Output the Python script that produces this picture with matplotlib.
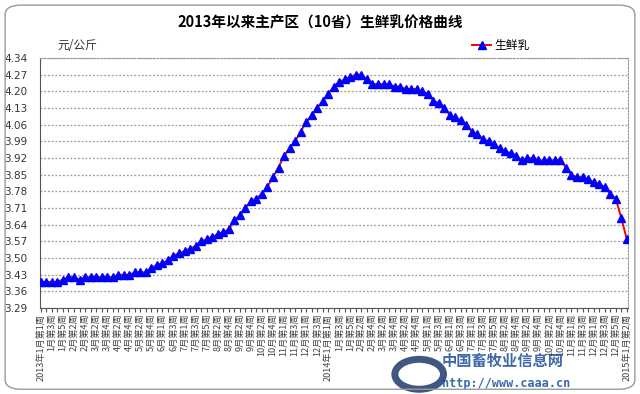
import numpy as np
import matplotlib
matplotlib.use("Agg")
import matplotlib.pyplot as plt
from matplotlib.patches import FancyBboxPatch, Circle

plt.rcParams['font.family'] = ['Noto Sans CJK SC', 'DejaVu Sans']

# weekly milk price, 2013 week 1 .. 2015 Jan week 2
price = [
    3.40, 3.40, 3.40, 3.40, 3.41,
    3.42, 3.42, 3.41, 3.42, 3.42,
    3.42, 3.42, 3.42, 3.42, 3.43,
    3.43, 3.43, 3.44, 3.44, 3.44,
    3.46, 3.47, 3.48, 3.49, 3.51,
    3.52, 3.53, 3.54, 3.55, 3.57,
    3.58, 3.59, 3.60, 3.61, 3.62,
    3.66, 3.68, 3.71, 3.74, 3.75,
    3.77, 3.80, 3.84, 3.88, 3.93,
    3.96, 3.99, 4.03, 4.07, 4.10,
    4.13, 4.16, 4.19, 4.22, 4.24,
    4.25, 4.26, 4.27, 4.27, 4.25,
    4.23, 4.23, 4.23, 4.23, 4.22,
    4.22, 4.21, 4.21, 4.21, 4.20,
    4.19, 4.16, 4.15, 4.13, 4.10,
    4.09, 4.08, 4.06, 4.03, 4.02,
    4.00, 3.99, 3.98, 3.96, 3.95,
    3.94, 3.93, 3.91, 3.92, 3.92,
    3.91, 3.91, 3.91, 3.91, 3.91,
    3.88, 3.85, 3.84, 3.84, 3.83,
    3.82, 3.81, 3.80, 3.77, 3.75,
    3.67, 3.58,
]

# labels shown on every second week
week_labels = [
    "2013年1月第1周", "1月第3周", "1月第5周", "2月第2周", "2月第4周", "3月第2周",
    "3月第4周", "4月第2周", "4月第4周", "5月第2周", "5月第4周", "6月第1周",
    "6月第3周", "7月第1周", "7月第3周", "7月第5周", "8月第2周", "8月第4周",
    "9月第2周", "9月第4周", "10月第2周", "10月第4周", "11月第1周", "11月第3周",
    "12月第1周", "12月第3周",
    "2014年1月第1周", "1月第3周", "1月第5周", "2月第2周", "2月第4周", "3月第2周",
    "3月第4周", "4月第2周", "4月第4周", "5月第1周", "5月第3周", "6月第1周",
    "6月第3周", "7月第1周", "7月第3周", "7月第5周", "8月第2周", "8月第4周",
    "9月第2周", "9月第4周", "10月第2周", "10月第4周", "11月第1周", "11月第3周",
    "12月第1周", "12月第3周", "12月第5周",
    "2015年1月第2周",
]

y_ticks = [3.29, 3.36, 3.43, 3.50, 3.57, 3.64, 3.71, 3.78, 3.85, 3.92,
           3.99, 4.06, 4.13, 4.20, 4.27, 4.34]

x = np.arange(len(price))

fig = plt.figure(figsize=(6.4, 3.94), dpi=100)
fig.patches.append(FancyBboxPatch((0.008, 0.012), 0.984, 0.975,
                                  boxstyle="round,pad=0,rounding_size=0.025",
                                  transform=fig.transFigure, fill=False,
                                  edgecolor="#9a9a9a", linewidth=1.0))

ax = fig.add_axes([0.0625, 0.218, 0.9185, 0.635])
ax.plot(x, price, color="red", linewidth=1.4, marker="^", markersize=5.3,
        markerfacecolor="#0000ff", markeredgecolor="#0000ff", label="生鲜乳",
        zorder=3)

ax.set_ylim(3.29, 4.34)
ax.set_yticks(y_ticks)
ax.set_yticklabels(["%.2f" % v for v in y_ticks], fontsize=7.5, color="#333333",
                   family=["DejaVu Sans"])
ax.yaxis.grid(True, linestyle=(0, (1.5, 1.5)), color="#9a9a9a", linewidth=0.9)
ax.tick_params(axis="y", length=0, pad=9)

ax.set_xlim(-0.15, len(price) - 0.8)
ax.set_xticks(x[::2])
ax.set_xticklabels(week_labels, rotation=90, fontsize=6.6, color="#444444",
                   va="top", ha="center")
ax.set_xticks(x[1::2], minor=True)
ax.tick_params(axis="x", which="both", length=3, width=0.8, color="#555555",
               direction="out", pad=1)

for side in ["top", "right"]:
    ax.spines[side].set_linestyle((0, (1.5, 1.5)))
    ax.spines[side].set_color("#9a9a9a")
ax.spines["left"].set_color("#555555")
ax.spines["bottom"].set_color("#555555")

fig.text(0.5, 0.943, "2013年以来主产区（10省）生鲜乳价格曲线", ha="center",
         va="center", fontsize=10.5, fontweight="bold")
fig.text(0.089, 0.885, "元/公斤", ha="left", va="center", fontsize=8.5,
         color="#333333")

ax.legend(loc="lower left", bbox_to_anchor=(0.725, 1.0), frameon=False,
          fontsize=8.5, handlelength=1.6, borderaxespad=0.1, handletextpad=0.3)

# site watermark (drawn under the axis labels)
fig.patches.append(Circle((0.655, 0.05), 0.038, transform=fig.transFigure,
                          facecolor="none", edgecolor="#1d3a6b", linewidth=5,
                          alpha=0.85, zorder=0))
fig.text(0.69, 0.083, "中国畜牧业信息网", fontsize=11, color="#1d4f9a",
         ha="left", va="center", fontweight="bold", alpha=0.85, zorder=0)
fig.text(0.69, 0.027, "http://www.caaa.cn", fontsize=8.5, color="#1d4f9a",
         ha="left", va="center", family=["DejaVu Sans Mono"],
         fontweight="bold", alpha=0.85, zorder=0)

plt.savefig("out.png", dpi=100)
